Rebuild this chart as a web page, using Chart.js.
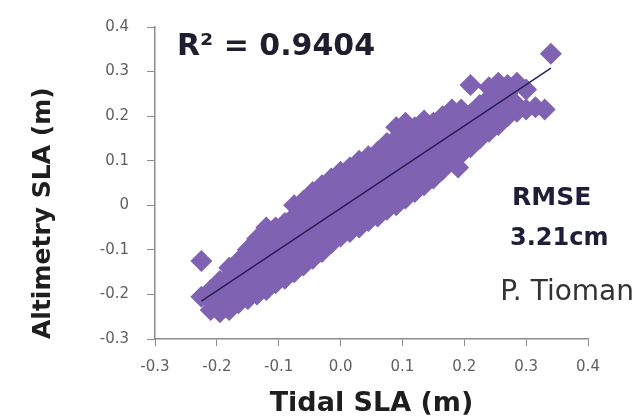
<!DOCTYPE html>
<html>
<head>
<meta charset="utf-8">
<script src="https://cdn.jsdelivr.net/npm/chart.js@4/dist/chart.umd.min.js"></script>
<style>
  html, body { margin: 0; padding: 0; background: #fff; }
  #wrap { width: 638px; height: 420px; }
</style>
</head>
<body>
<div id="wrap"><canvas id="c"></canvas></div>
<script>
// tidal SLA (x) vs altimetry SLA (y)
const tidalSLA = [
  -0.225, -0.225,
  -0.21, -0.21, -0.21,
  -0.195, -0.195, -0.195, -0.195,
  -0.18, -0.18, -0.18, -0.18, -0.18,
  -0.165, -0.165, -0.165, -0.165, -0.165,
  -0.15, -0.15, -0.15, -0.15, -0.15, -0.15,
  -0.135, -0.135, -0.135, -0.135, -0.135, -0.135,
  -0.12, -0.12, -0.12, -0.12, -0.12, -0.12, -0.12,
  -0.105, -0.105, -0.105, -0.105, -0.105, -0.105,
  -0.09, -0.09, -0.09, -0.09, -0.09, -0.09,
  -0.075, -0.075, -0.075, -0.075, -0.075, -0.075, -0.075,
  -0.06, -0.06, -0.06, -0.06, -0.06, -0.06, -0.06,
  -0.045, -0.045, -0.045, -0.045, -0.045, -0.045, -0.045,
  -0.03, -0.03, -0.03, -0.03, -0.03, -0.03, -0.03,
  -0.015, -0.015, -0.015, -0.015, -0.015, -0.015, -0.015,
  0.0, 0.0, 0.0, 0.0, 0.0, 0.0, 0.0,
  0.015, 0.015, 0.015, 0.015, 0.015, 0.015, 0.015,
  0.03, 0.03, 0.03, 0.03, 0.03, 0.03, 0.03,
  0.045, 0.045, 0.045, 0.045, 0.045, 0.045, 0.045,
  0.06, 0.06, 0.06, 0.06, 0.06, 0.06, 0.06,
  0.075, 0.075, 0.075, 0.075, 0.075, 0.075, 0.075,
  0.09, 0.09, 0.09, 0.09, 0.09, 0.09, 0.09, 0.09,
  0.105, 0.105, 0.105, 0.105, 0.105, 0.105, 0.105, 0.105,
  0.12, 0.12, 0.12, 0.12, 0.12, 0.12, 0.12,
  0.135, 0.135, 0.135, 0.135, 0.135, 0.135, 0.135,
  0.15, 0.15, 0.15, 0.15, 0.15, 0.15,
  0.165, 0.165, 0.165, 0.165, 0.165, 0.165,
  0.18, 0.18, 0.18, 0.18, 0.18, 0.18,
  0.19,
  0.195, 0.195, 0.195, 0.195, 0.195,
  0.21, 0.21, 0.21, 0.21, 0.21,
  0.225, 0.225, 0.225, 0.225,
  0.24, 0.24, 0.24, 0.24, 0.24,
  0.255, 0.255, 0.255, 0.255, 0.255,
  0.27, 0.27, 0.27, 0.27,
  0.285, 0.285, 0.285,
  0.3, 0.3,
  0.315,
  0.33,
  0.34
];
const altimetrySLA = [
  -0.125, -0.205,
  -0.235, -0.215, -0.19,
  -0.24, -0.22, -0.195, -0.17,
  -0.235, -0.21, -0.185, -0.16, -0.14,
  -0.22, -0.2, -0.175, -0.15, -0.125,
  -0.21, -0.19, -0.165, -0.14, -0.115, -0.1,
  -0.2, -0.175, -0.15, -0.125, -0.1, -0.075,
  -0.19, -0.165, -0.14, -0.115, -0.09, -0.065, -0.05,
  -0.175, -0.15, -0.125, -0.1, -0.075, -0.05,
  -0.165, -0.14, -0.115, -0.09, -0.065, -0.04,
  -0.15, -0.125, -0.1, -0.075, -0.05, -0.025, 0.0,
  -0.135, -0.11, -0.085, -0.06, -0.035, -0.01, 0.01,
  -0.12, -0.095, -0.07, -0.045, -0.02, 0.005, 0.03,
  -0.105, -0.08, -0.055, -0.03, -0.005, 0.02, 0.045,
  -0.085, -0.06, -0.035, -0.01, 0.015, 0.04, 0.06,
  -0.07, -0.045, -0.02, 0.005, 0.03, 0.055, 0.075,
  -0.06, -0.035, -0.01, 0.015, 0.04, 0.065, 0.085,
  -0.05, -0.025, 0.0, 0.025, 0.05, 0.075, 0.1,
  -0.035, -0.01, 0.015, 0.04, 0.065, 0.09, 0.11,
  -0.025, 0.0, 0.025, 0.05, 0.075, 0.1, 0.12,
  -0.01, 0.015, 0.04, 0.065, 0.09, 0.115, 0.14,
  0.0, 0.025, 0.05, 0.075, 0.1, 0.125, 0.15, 0.175,
  0.015, 0.04, 0.065, 0.09, 0.115, 0.14, 0.165, 0.185,
  0.03, 0.055, 0.08, 0.105, 0.13, 0.155, 0.175,
  0.045, 0.07, 0.095, 0.12, 0.145, 0.17, 0.19,
  0.06, 0.085, 0.11, 0.135, 0.16, 0.185,
  0.08, 0.105, 0.13, 0.155, 0.18, 0.2,
  0.1, 0.125, 0.15, 0.175, 0.2, 0.215,
  0.085,
  0.115, 0.14, 0.165, 0.19, 0.215,
  0.13, 0.155, 0.18, 0.205, 0.27,
  0.15, 0.175, 0.2, 0.225,
  0.165, 0.19, 0.215, 0.24, 0.265,
  0.18, 0.205, 0.23, 0.255, 0.275,
  0.2, 0.225, 0.25, 0.27,
  0.21, 0.225, 0.275,
  0.215, 0.26,
  0.22,
  0.215,
  0.34
];
// linear trendline ends
const trendX = [-0.225, 0.34];
const trendY = [-0.215, 0.308];

const xTicks = [-0.3, -0.2, -0.1, 0.0, 0.1, 0.2, 0.3, 0.4];
const xTickLabels = ['-0.3', '-0.2', '-0.1', '0.0', '0.1', '0.2', '0.3', '0.4'];
const yTicks = [-0.3, -0.2, -0.1, 0, 0.1, 0.2, 0.3, 0.4];
const yTickLabels = ['-0.3', '-0.2', '-0.1', '0', '0.1', '0.2', '0.3', '0.4'];

const notes = [
  { text: 'R\u00b2 = 0.9404', x: 177, y: 55, font: 'bold 30px "DejaVu Sans"', color: '#1e1e2e', align: 'left' },
  { text: 'RMSE', x: 512, y: 205, font: 'bold 25px "DejaVu Sans"', color: '#1e1e38', align: 'left' },
  { text: '3.21cm', x: 510, y: 245, font: 'bold 24px "DejaVu Sans"', color: '#1e1e38', align: 'left' },
  { text: 'P. Tioman', x: 634, y: 300, font: '28px "DejaVu Sans"', color: '#333333', align: 'right' }
];

const notesPlugin = {
  id: 'notes',
  afterDraw(chart) {
    const ctx = chart.ctx;
    ctx.save();
    ctx.textBaseline = 'alphabetic';
    notes.forEach(n => {
      ctx.font = n.font;
      ctx.fillStyle = n.color;
      ctx.textAlign = n.align;
      ctx.fillText(n.text, n.x, n.y);
    });
    ctx.restore();
  }
};

const pts = tidalSLA.map((x, i) => ({ x: x, y: altimetrySLA[i] }));
const trend = trendX.map((x, i) => ({ x: x, y: trendY[i] }));

const axisColor = '#8c8c8c';
const tickFont = { family: 'DejaVu Sans', size: 15 };

new Chart(document.getElementById('c'), {
  type: 'scatter',
  data: {
    datasets: [
      {
        type: 'line',
        data: trend,
        borderColor: '#2a1b5a',
        borderWidth: 1.5,
        pointRadius: 0,
        fill: false,
        order: 0
      },
      {
        data: pts,
        pointStyle: 'rectRot',
        pointRadius: 11,
        pointBackgroundColor: '#7f63b2',
        pointBorderWidth: 0,
        order: 1
      }
    ]
  },
  options: {
    responsive: true,
    maintainAspectRatio: false,
    animation: false,
    layout: { padding: { top: 20, right: 50, left: 0, bottom: 0 } },
    plugins: { legend: { display: false }, tooltip: { enabled: false } },
    scales: {
      x: {
        type: 'linear',
        min: -0.3, max: 0.4,
        afterBuildTicks: s => { s.ticks = xTicks.map(v => ({ value: v })); },
        afterFit: s => { s.height = 81; },
        ticks: {
          callback: (v, i) => xTickLabels[i],
          font: tickFont, color: '#606060', padding: 12, maxRotation: 0
        },
        grid: { drawOnChartArea: false, drawTicks: true, tickLength: 7, color: axisColor },
        border: { color: axisColor, width: 1.5 },
        title: {
          display: true, text: 'Tidal SLA (m)', color: '#1e1e1e',
          font: { family: 'DejaVu Sans', size: 27, weight: 'bold' },
          padding: { top: 0, bottom: 0 }
        }
      },
      y: {
        type: 'linear',
        min: -0.3, max: 0.4,
        afterBuildTicks: s => { s.ticks = yTicks.map(v => ({ value: v })); },
        afterFit: s => { s.width = 155; },
        ticks: {
          callback: (v, i) => yTickLabels[i],
          font: tickFont, color: '#606060', padding: 18
        },
        grid: { drawOnChartArea: false, drawTicks: true, tickLength: 8, color: axisColor },
        border: { color: axisColor, width: 1.5 },
        title: {
          display: true, text: 'Altimetry SLA (m)', color: '#1e1e1e', align: 'start',
          font: { family: 'DejaVu Sans', size: 25, weight: 'bold' },
          padding: { top: 28, bottom: 0 }
        }
      }
    }
  },
  plugins: [notesPlugin]
});
</script>
</body>
</html>
